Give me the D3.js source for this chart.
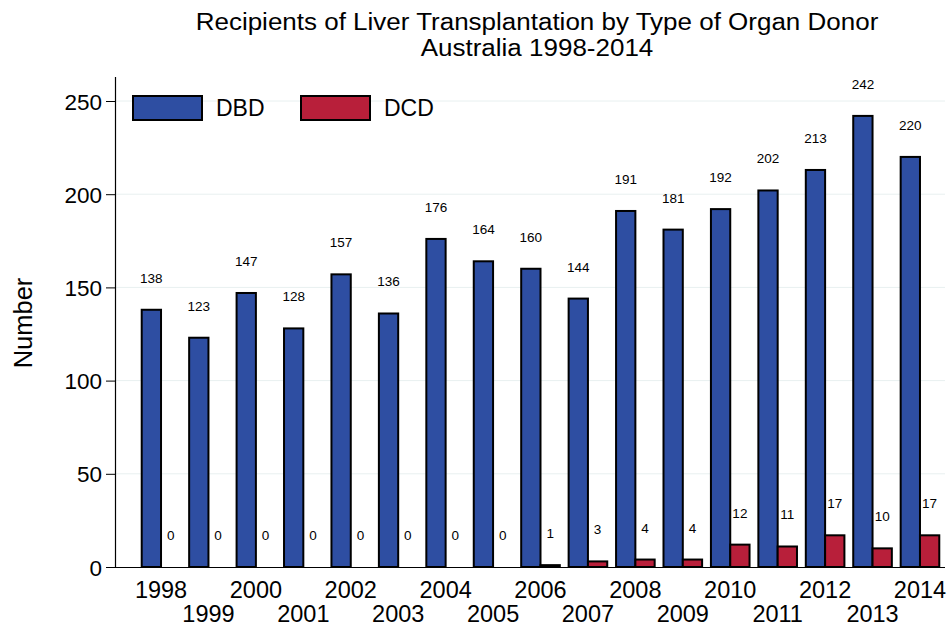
<!DOCTYPE html>
<html>
<head>
<meta charset="utf-8">
<script src="https://cdn.jsdelivr.net/npm/d3@7"></script>
<style>
  body { margin: 0; background: #fff; }
  text { font-family: "Liberation Sans", Arial, sans-serif; }
</style>
</head>
<body>
<svg id="chart" width="952" height="626"></svg>
<script>
const years = ["1998","1999","2000","2001","2002","2003","2004","2005","2006","2007","2008","2009","2010","2011","2012","2013","2014"];
const dbd = [138,123,147,128,157,136,176,164,160,144,191,181,192,202,213,242,220];
const dcd = [0,0,0,0,0,0,0,0,1,3,4,4,12,11,17,10,17];
const yTicks = [0,50,100,150,200,250];
const seriesNames = ["DBD","DCD"];
const colors = ["#2e4ea2","#b81f3a"];

const svg = d3.select("#chart");

const x = d3.scaleBand().domain(years).range([118, 963]).paddingInner(0.186).paddingOuter(0.5);
const xSub = d3.scaleBand().domain(seriesNames).range([0, x.bandwidth()]);
const y = d3.scaleLinear().domain([0, 250]).range([567, 101]);

// gridlines
svg.append("g")
    .selectAll("line")
    .data(yTicks.filter(d => d > 0))
    .enter()
    .append("line")
    .attr("x1", 116).attr("x2", 945)
    .attr("y1", d => y(d)).attr("y2", d => y(d))
    .attr("stroke", "#e8f0f0")
    .attr("stroke-width", 1);

// bars
const rows = years.map((yr, i) => ({ year: yr, values: [dbd[i], dcd[i]] }));

const groups = svg.append("g")
    .selectAll("g")
    .data(rows)
    .enter()
    .append("g")
    .attr("transform", d => `translate(${x(d.year)},0)`);

groups.selectAll("rect")
    .data(d => d.values.map((v, k) => ({ key: seriesNames[k], v, k })))
    .enter()
    .append("rect")
    .attr("x", d => xSub(d.key))
    .attr("y", d => y(d.v))
    .attr("width", xSub.bandwidth())
    .attr("height", d => y(0) - y(d.v))
    .attr("fill", d => colors[d.k])
    .attr("stroke", "#000")
    .attr("stroke-width", 2);

groups.selectAll("text")
    .data(d => d.values.map((v, k) => ({ key: seriesNames[k], v, k })))
    .enter()
    .append("text")
    .attr("x", d => xSub(d.key) + xSub.bandwidth() / 2)
    .attr("y", d => y(d.v) - 27)
    .attr("text-anchor", "middle")
    .attr("font-size", "13.5px")
    .attr("fill", "#000")
    .text(d => d.v);

// y axis
const yAxis = svg.append("g")
    .attr("transform", "translate(115,0)")
    .call(d3.axisLeft(y).tickValues(yTicks).tickSize(9).tickPadding(4));
yAxis.select(".domain").remove();
yAxis.selectAll("text").attr("font-size", "22.5px").attr("dy", "0.36em").attr("fill", "#000");
yAxis.selectAll("line").attr("stroke", "#000");
svg.append("line")
    .attr("x1", 115.5).attr("x2", 115.5)
    .attr("y1", 77).attr("y2", 568)
    .attr("stroke", "#000").attr("stroke-width", 1.2);

// x axis
svg.append("line")
    .attr("x1", 115).attr("x2", 945)
    .attr("y1", 567.5).attr("y2", 567.5)
    .attr("stroke", "#000").attr("stroke-width", 1.2);

const xAxis = svg.append("g")
    .attr("transform", "translate(0,567)")
    .call(d3.axisBottom(x).tickSize(0));
xAxis.select(".domain").remove();
xAxis.selectAll("text")
    .attr("font-size", "23.5px")
    .attr("dy", null)
    .attr("y", (d, i) => i % 2 === 0 ? 31 : 55)
    .attr("fill", "#000");

// y label
svg.append("text")
    .attr("transform", "translate(32,323) rotate(-90)")
    .attr("text-anchor", "middle")
    .attr("font-size", "25.5px")
    .text("Number");

// title
svg.append("text")
    .attr("transform", "translate(537,30) scale(1.13,1)")
    .attr("text-anchor", "middle")
    .attr("font-size", "23px")
    .text("Recipients of Liver Transplantation by Type of Organ Donor");
svg.append("text")
    .attr("transform", "translate(537,56) scale(1.13,1)")
    .attr("text-anchor", "middle")
    .attr("font-size", "23px")
    .text("Australia 1998-2014");

// legend
const legend = svg.append("g")
    .selectAll("g")
    .data(seriesNames)
    .enter()
    .append("g")
    .attr("transform", (d, i) => `translate(${133 + i * 168},96)`);
legend.append("rect")
    .attr("width", 69).attr("height", 24)
    .attr("fill", (d, i) => colors[i])
    .attr("stroke", "#000").attr("stroke-width", 2);
legend.append("text")
    .attr("x", 83).attr("y", 20)
    .attr("font-size", "23px")
    .text(d => d);
</script>
</body>
</html>
